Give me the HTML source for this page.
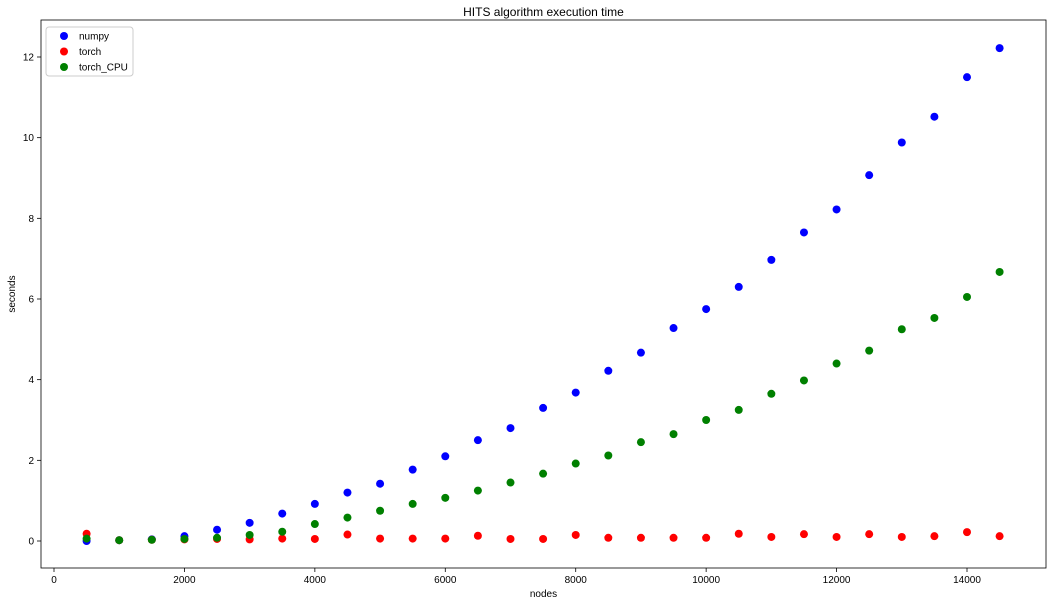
<!DOCTYPE html>
<html><head><meta charset="utf-8"><style>
html,body{margin:0;padding:0;background:#fff;}
svg{display:block;font-family:"Liberation Sans","DejaVu Sans",sans-serif;}
</style></head><body>
<svg id="chart" width="1052" height="604"></svg>
<script>
const categories=[500,1000,1500,2000,2500,3000,3500,4000,4500,5000,5500,6000,6500,7000,7500,8000,8500,9000,9500,10000,10500,11000,11500,12000,12500,13000,13500,14000,14500];
const numpyValues=[0.0,0.02,0.04,0.12,0.28,0.45,0.68,0.92,1.2,1.42,1.77,2.1,2.5,2.8,3.3,3.68,4.22,4.67,5.28,5.75,6.3,6.97,7.65,8.22,9.07,9.88,10.52,11.5,12.22];
const torchValues=[0.18,0.02,0.03,0.04,0.05,0.04,0.06,0.05,0.16,0.06,0.06,0.06,0.13,0.05,0.05,0.15,0.08,0.08,0.08,0.08,0.18,0.1,0.17,0.1,0.17,0.1,0.12,0.22,0.12];
const torchCpuValues=[0.06,0.02,0.03,0.05,0.08,0.15,0.23,0.42,0.58,0.75,0.92,1.07,1.25,1.45,1.67,1.92,2.12,2.45,2.65,3.0,3.25,3.65,3.98,4.4,4.72,5.25,5.53,6.05,6.67];
const xTicks=[0,2000,4000,6000,8000,10000,12000,14000];
const yTicks=[0,2,4,6,8,10,12];

const NS="http://www.w3.org/2000/svg";
const svg=document.getElementById('chart');
const L=41,R=1046,T=20,B=568;
function xs(v){return 54+v*(967-54)/14000;}
function ys(v){return 541-v*(541-57)/12;}
function el(tag,attrs,parent){const e=document.createElementNS(NS,tag);for(const k in attrs)e.setAttribute(k,attrs[k]);(parent||svg).appendChild(e);return e;}

const title=el('text',{x:(L+R)/2,y:16,'text-anchor':'middle','font-size':12});
title.textContent='HITS algorithm execution time';



const frame=el('rect',{x:L,y:T,width:R-L,height:B-T,fill:'none',stroke:'#000','stroke-width':0.8});



xTicks.forEach(t=>{
  const x=xs(t);
  const tk=el('line',{x1:x,x2:x,y1:B,y2:B+4,stroke:'#000','stroke-width':0.8});
  
  
  const lb=el('text',{x:x,y:B+15,'text-anchor':'middle','font-size':10});
  lb.textContent=t;
  
  
});
yTicks.forEach(t=>{
  const y=ys(t);
  const tk=el('line',{x1:L-4,x2:L,y1:y,y2:y,stroke:'#000','stroke-width':0.8});
  
  
  const lb=el('text',{x:L-7,y:y+3.5,'text-anchor':'end','font-size':10});
  lb.textContent=t;
  
  
});
const xt=el('text',{x:(L+R)/2,y:597,'text-anchor':'middle','font-size':10});
xt.textContent='nodes';


const yt=el('text',{x:15,y:(T+B)/2,'text-anchor':'middle','font-size':10,transform:'rotate(-90 15 '+((T+B)/2)+')'});
yt.textContent='seconds';



const series=[['numpy',numpyValues,'#0000ff'],['torch',torchValues,'#ff0000'],['torch_CPU',torchCpuValues,'#008000']];
series.forEach(([name,vals,col])=>{
  const g=el('g',{});
  
  
  vals.forEach((v,i)=>{
    const c=el('circle',{cx:xs(categories[i]),cy:ys(v),r:4,fill:col},g);
    
    
  });
});

const lg=el('g',{});


el('rect',{x:46,y:27,width:87,height:49,rx:3,fill:'#fff',stroke:'#ccc','stroke-width':1},lg);
series.forEach(([name,vals,col],i)=>{
  const y=36+i*15.5;
  const e=el('g',{},lg);
  
  
  el('circle',{cx:64,cy:y,r:4,fill:col},e);
  const t=el('text',{x:79,y:y+3.5,'font-size':10},e);
  t.textContent=name;
});
</script>
</body></html>
